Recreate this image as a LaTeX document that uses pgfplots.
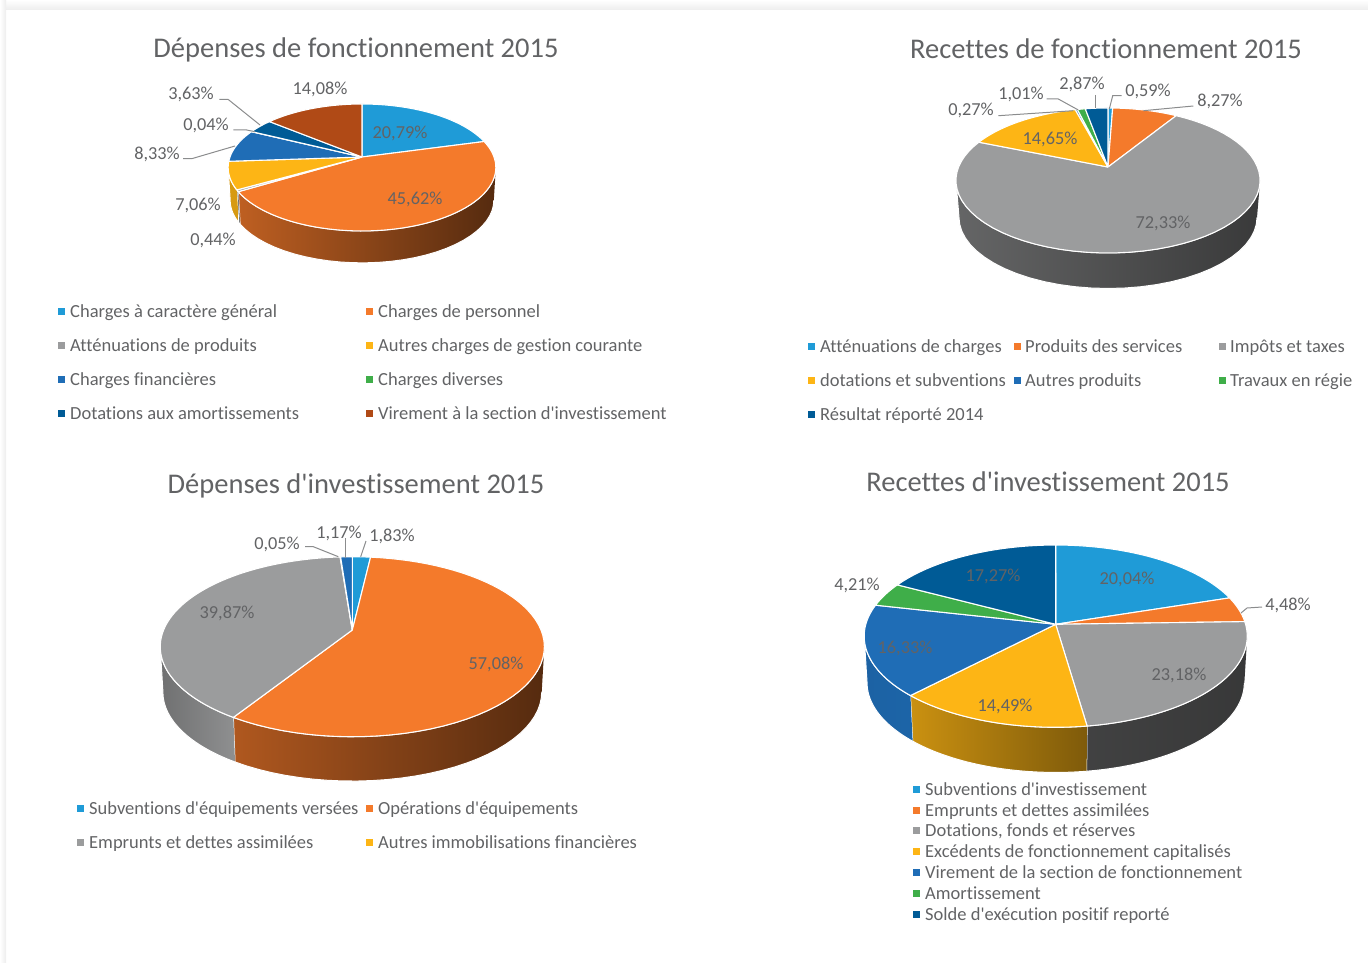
\documentclass[border=0pt]{standalone}
\usepackage{pgfplots}
\pgfplotsset{compat=1.18}
\usepackage{fontspec}
\setmainfont{Carlito}[Ligatures={NoCommon,TeXOff}]
\definecolor{cBlue}{HTML}{1F9BD7}
\definecolor{cOrange}{HTML}{F47A2B}
\definecolor{cGray}{HTML}{9B9C9D}
\definecolor{cYellow}{HTML}{FDB515}
\definecolor{cBlueB}{HTML}{1F6DB6}
\definecolor{cGreen}{HTML}{3FAE49}
\definecolor{cNavy}{HTML}{005B96}
\definecolor{cBrown}{HTML}{B04A16}
\definecolor{cText}{HTML}{626365}
% current pie: apex, half axes, perspective, wall height, wall scale
\newcommand{\PieSet}[7]{\def\X{#1}\def\Y{#2}\def\A{#3}\def\B{#4}\def\K{#5}\def\H{#6}\def\C{#7}}
% #1,#2 = cumulative percentages, #3 = colour
\newcommand{\Slice}[3]{%
  \def\Ang{(3.6*(#1+(#2-#1)*(61*\s-1)/59))}%
  \def\Rr{ifthenelse(\s*(1-\s)>0.0001,1,0)}%
  \addplot[fill=#3,draw=white,line width=1.1pt,line join=round,domain=0:1,samples=62,variable=\s]
    ({\X+\Rr*\A*sin(\Ang)/(1+\K*cos(\Ang))},{\Y-\Rr*\B*cos(\Ang)/(1+\K*cos(\Ang))});
}
% #1,#2 = cumulative percentages of the visible part, #3 = shading
\newcommand{\Wall}[3]{%
  \def\Fr{ifthenelse(61*\s<30.5,61*\s/30,(61-61*\s)/30)}%
  \def\Ang{(3.6*(#1+(#2-#1)*\Fr))}%
  \def\Sc{ifthenelse(61*\s<30.5,\C,1)}%
  \def\Dy{ifthenelse(61*\s<30.5,\H,0)}%
  \addplot[#3,draw=white,line width=1pt,line join=round,domain=0:1,samples=62,variable=\s]
    ({\X+\Sc*\A*sin(\Ang)/(1+\K*cos(\Ang))},{\Y+\Dy-\Sc*\B*cos(\Ang)/(1+\K*cos(\Ang))});
}
\newcommand{\Lab}[3]{\node[anchor=base,inner sep=0pt,text=cText,font=\fontsize{18.3}{20}\selectfont] at (axis cs:#1,#2+7) {#3};}
\newcommand{\InLab}[3]{\node[anchor=base,inner sep=0pt,text=cText,font=\fontsize{18.3}{20}\selectfont] at (axis cs:#1,#2+7) {#3};}
\newcommand{\Title}[3]{\node[anchor=base,inner sep=0pt,text=cText,font=\fontsize{28.5}{30}\selectfont] at (axis cs:#1,#2+10) {#3};}
\newcommand{\Leg}[5]{%
  \addplot[only marks,mark=square*,mark size=3.1pt,color=#5,mark options={draw=none,fill=#5}] coordinates {(#1,#3)};
  \node[anchor=base west,inner sep=0pt,text=cText,font=\fontsize{18.5}{20}\selectfont] at (axis cs:#2,#3+6.5) {#4};}
\newcommand{\Lead}[1]{\addplot[draw=cGray!90!black,line width=1pt] coordinates {#1};}
\begin{document}
\begin{tikzpicture}
\begin{axis}[
  scale only axis, width=1368pt, height=963pt,
  xmin=0, xmax=1368, ymin=0, ymax=963, y dir=reverse,
  ticks=none, axis line style={draw=none,line width=0pt},
  clip=false]
% page edge
\addplot[draw=none,top color=white,bottom color=black!7] coordinates {(0,0)(1368,0)(1368,10)(6,10)(0,10)};
\addplot[draw=none,left color=white,right color=black!7] coordinates {(0,0)(6,0)(6,963)(0,963)};

%% ---- Dépenses de fonctionnement
\PieSet{362}{157}{132}{61.76}{0.165}{33}{0.985}
\Wall{27.6}{66.41}{left color=cOrange!78!black,middle color=cOrange!62!black,right color=cOrange!35!black}
\Wall{66.41}{66.85}{left color=cGray!70!black,right color=cGray!70!black}
\Wall{66.85}{72.4}{left color=cYellow!85!black,right color=cYellow!85!black}
\Slice{0}{20.79}{cBlue}
\Slice{20.79}{66.41}{cOrange}
\Slice{66.41}{66.85}{cGray}
\Slice{66.85}{73.91}{cYellow}
\Slice{73.91}{82.24}{cBlueB}
\Slice{82.24}{82.28}{cGreen}
\Slice{82.28}{85.91}{cNavy}
\Slice{85.91}{100}{cBrown}
\Lead{(219.3,99.3)(228,99.3)(260,125)}
\Lead{(233.3,130)(246.7,130)(255,131.7)}
\Lead{(183,158.7)(191.7,158.7)(235,146)}
\Title{356}{48}{Dépenses de fonctionnement 2015}
\Lab{320}{88}{14,08\%}\Lab{191}{93}{3,63\%}\Lab{206}{124}{0,04\%}\Lab{157}{153}{8,33\%}
\Lab{198}{203}{7,06\%}\Lab{213}{238}{0,44\%}\InLab{400}{132}{20,79\%}\InLab{415}{197}{45,62\%}
\Leg{61}{70}{311}{Charges à caractère général}{cBlue}
\Leg{369}{378}{311}{Charges de personnel}{cOrange}
\Leg{61}{70}{345}{Atténuations de produits}{cGray}
\Leg{369}{378}{345}{Autres charges de gestion courante}{cYellow}
\Leg{61}{70}{379}{Charges financières}{cBlueB}
\Leg{369}{378}{379}{Charges diverses}{cGreen}
\Leg{61}{70}{413}{Dotations aux amortissements}{cNavy}
\Leg{369}{378}{413}{Virement à la section d'investissement}{cBrown}

%% ---- Recettes de fonctionnement
\PieSet{1108}{167}{149.4}{70}{0.186}{37.2}{0.98}
\Wall{28}{72}{left color=cGray!65!black,middle color=cGray!50!black,right color=cGray!37!black}
\Slice{0}{0.59}{cBlue}
\Slice{0.59}{8.86}{cOrange}
\Slice{8.86}{81.19}{cGray}
\Slice{81.19}{95.84}{cYellow}
\Slice{95.84}{96.11}{cBlueB}
\Slice{96.11}{97.12}{cGreen}
\Slice{97.12}{100}{cNavy}
\Lead{(998.3,115.7)(1073.3,110.7)}
\Lead{(1046.7,99)(1058.3,99)(1078.3,110)}
\Lead{(1095,95)(1095,108.3)}
\Lead{(1121.7,95.7)(1112.7,95.7)(1109.3,109)}
\Lead{(1193.3,106)(1143.3,110.7)}
\Title{1106}{49}{Recettes de fonctionnement 2015}
\Lab{971}{109}{0,27\%}\Lab{1021}{93}{1,01\%}\Lab{1082}{83}{2,87\%}\Lab{1148}{90}{0,59\%}
\Lab{1220}{100}{8,27\%}\InLab{1050}{138}{14,65\%}\InLab{1163}{221}{72,33\%}
\Leg{811}{820}{346}{Atténuations de charges}{cBlue}
\Leg{1017}{1025}{346}{Produits des services}{cOrange}
\Leg{1222}{1230}{346}{Impôts et taxes}{cGray}
\Leg{811}{820}{380}{dotations et subventions}{cYellow}
\Leg{1017}{1025}{380}{Autres produits}{cBlueB}
\Leg{1222}{1230}{380}{Travaux en régie}{cGreen}
\Leg{811}{820}{414}{Résultat réporté 2014}{cNavy}

%% ---- Dépenses d'investissement
\PieSet{352.3}{630}{188.7}{86.9}{0.186}{45.8}{0.986}
\Wall{28}{58.91}{left color=cOrange!72!black,middle color=cOrange!55!black,right color=cOrange!35!black}
\Wall{58.91}{72}{left color=cGray!72!black,right color=cGray!92!black}
\Slice{0}{1.83}{cBlue}
\Slice{1.83}{58.91}{cOrange}
\Slice{58.91}{98.78}{cGray}
\Slice{98.78}{98.83}{cYellow}
\Slice{98.83}{100}{cBlueB}
\Lead{(305,546.7)(313.3,546.7)(338.3,556.7)}
\Lead{(345,538)(345,557.7)}
\Lead{(366,541)(360.7,556.7)}
\Title{356}{483}{Dépenses d'investissement 2015}
\Lab{277}{542}{0,05\%}\Lab{339}{531}{1,17\%}\Lab{392}{534}{1,83\%}
\InLab{227}{611}{39,87\%}\InLab{496}{662}{57,08\%}
\Leg{80}{89}{808}{Subventions d'équipements versées}{cBlue}
\Leg{369}{378}{808}{Opérations d'équipements}{cOrange}
\Leg{80}{89}{842}{Emprunts et dettes assimilées}{cGray}
\Leg{369}{378}{842}{Autres immobilisations financières}{cYellow}

%% ---- Recettes d'investissement
\PieSet{1055.7}{624.3}{189.9}{89.6}{0.13}{46.7}{0.985}
\Wall{27.1}{47.7}{left color=cGray!42!black,right color=cGray!36!black}
\Wall{47.7}{62.19}{left color=cYellow!80!black,right color=cYellow!50!black}
\Wall{62.19}{72.9}{left color=cBlueB!90!black,right color=cBlueB!92!black}
\Slice{0}{20.04}{cBlue}
\Slice{20.04}{24.52}{cOrange}
\Slice{24.52}{47.7}{cGray}
\Slice{47.7}{62.19}{cYellow}
\Slice{62.19}{78.52}{cBlueB}
\Slice{78.52}{82.73}{cGreen}
\Slice{82.73}{100}{cNavy}
\Lead{(1241,613)(1247,608)(1262,607)}
\Title{1048}{481}{Recettes d'investissement 2015}
\Lab{857}{583}{4,21\%}\Lab{1288}{603}{4,48\%}
\InLab{1127}{577}{20,04\%}\InLab{993}{574}{17,27\%}\InLab{905}{646}{16,33\%}
\InLab{1005}{704}{14,49\%}\InLab{1179}{673}{23,18\%}
\Leg{916}{925}{789}{Subventions d'investissement}{cBlue}
\Leg{916}{925}{810}{Emprunts et dettes assimilées}{cOrange}
\Leg{916}{925}{830}{Dotations, fonds et réserves}{cGray}
\Leg{916}{925}{851}{Excédents de fonctionnement capitalisés}{cYellow}
\Leg{916}{925}{872}{Virement de la section de fonctionnement}{cBlueB}
\Leg{916}{925}{893}{Amortissement}{cGreen}
\Leg{916}{925}{914}{Solde d'exécution positif reporté}{cNavy}
\end{axis}
\end{tikzpicture}
\end{document}
